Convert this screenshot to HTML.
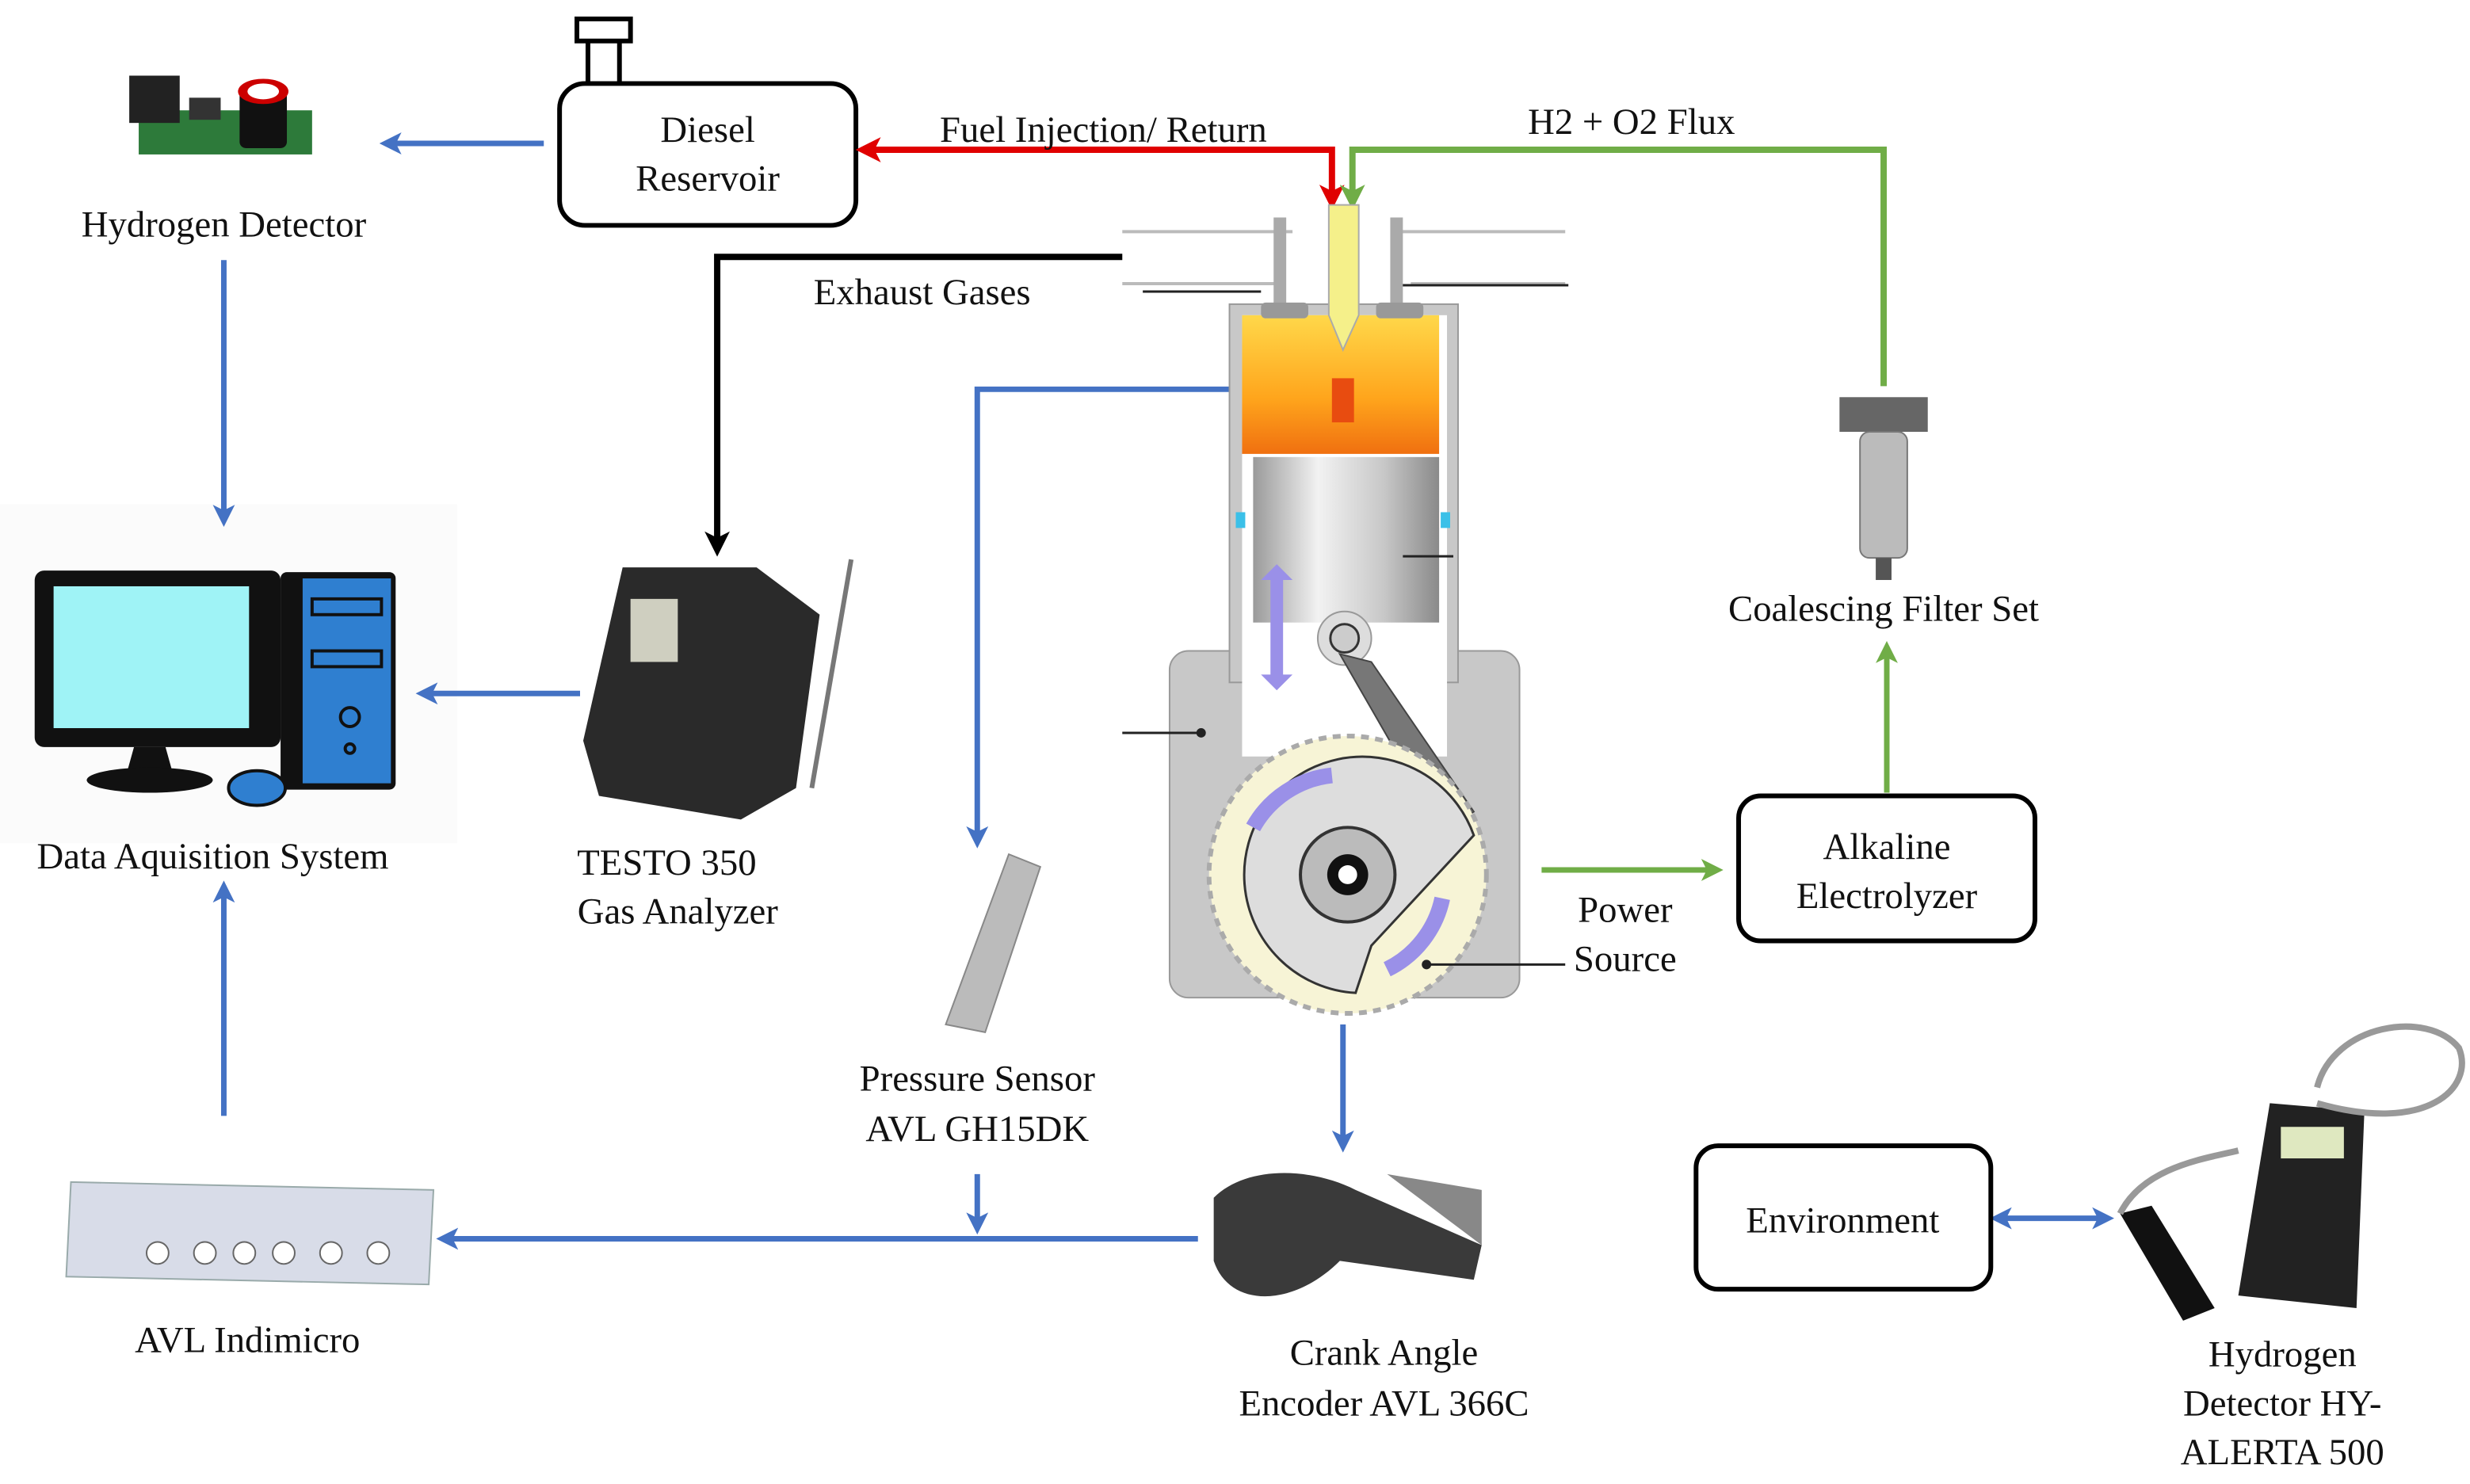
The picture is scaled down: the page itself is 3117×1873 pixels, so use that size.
<!DOCTYPE html>
<html><head><meta charset="utf-8"><style>
html,body{margin:0;padding:0;background:#fff;}
svg{display:block;}
svg text{font-family:'Liberation Serif','DejaVu Serif',serif !important;font-size:23.5px;fill:#111;text-anchor:middle;}
</style></head><body>
<svg width="3117" height="1873" viewBox="0 0 1567 941.6" preserveAspectRatio="none" xmlns="http://www.w3.org/2000/svg" font-family="Liberation Serif, serif">
<defs>
<marker id="ab" markerWidth="4" markerHeight="4" refX="2.2" refY="2" orient="auto" markerUnits="strokeWidth"><path d="M0,0 L4,2 L0,4 L1,2 z" fill="#4472c4"/></marker>
<marker id="abs" markerWidth="4" markerHeight="4" refX="1.8" refY="2" orient="auto-start-reverse" markerUnits="strokeWidth"><path d="M0,0 L4,2 L0,4 L1,2 z" fill="#4472c4"/></marker>
<marker id="ar" markerWidth="4" markerHeight="4" refX="2.2" refY="2" orient="auto-start-reverse" markerUnits="strokeWidth"><path d="M0,0 L4,2 L0,4 L1,2 z" fill="#e00000"/></marker>
<marker id="ag" markerWidth="4" markerHeight="4" refX="2.2" refY="2" orient="auto" markerUnits="strokeWidth"><path d="M0,0 L4,2 L0,4 L1,2 z" fill="#70ad47"/></marker>
<marker id="ak" markerWidth="4" markerHeight="4" refX="2.2" refY="2" orient="auto" markerUnits="strokeWidth"><path d="M0,0 L4,2 L0,4 L1,2 z" fill="#000"/></marker>
<linearGradient id="fire" x1="0" y1="0" x2="0" y2="1"><stop offset="0" stop-color="#ffd84a"/><stop offset="0.6" stop-color="#ffa51c"/><stop offset="1" stop-color="#f07010"/></linearGradient>
<linearGradient id="pist" x1="0" y1="0" x2="1" y2="0"><stop offset="0" stop-color="#9a9a9a"/><stop offset="0.35" stop-color="#f2f2f2"/><stop offset="0.7" stop-color="#c8c8c8"/><stop offset="1" stop-color="#8a8a8a"/></linearGradient>
</defs>
<rect x="0" y="320" width="290" height="215" fill="#fbfbfb"/>

<!-- Diesel reservoir -->
<rect x="366" y="12" width="34" height="14" fill="#fff" stroke="#000" stroke-width="3"/>
<line x1="373" y1="26" x2="373" y2="53" stroke="#000" stroke-width="3"/>
<line x1="393" y1="26" x2="393" y2="53" stroke="#000" stroke-width="3"/>
<rect x="355" y="53" width="188" height="90" rx="16" fill="#fff" stroke="#000" stroke-width="3"/>
<text x="449" y="90">Diesel</text>
<text x="449" y="121">Reservoir</text>

<!-- hydrogen detector board -->
<rect x="88" y="70" width="110" height="28" fill="#2d7a3a"/>
<rect x="82" y="48" width="32" height="30" fill="#222"/>
<rect x="152" y="54" width="30" height="40" rx="4" fill="#111"/>
<ellipse cx="167" cy="58" rx="16" ry="8" fill="#c00"/><ellipse cx="167" cy="58" rx="10" ry="5" fill="#fff"/>
<rect x="120" y="62" width="20" height="14" fill="#333"/>
<text x="142" y="150">Hydrogen Detector</text>
<line x1="345" y1="91" x2="247" y2="91" stroke="#4472c4" stroke-width="3.5" marker-end="url(#ab)"/>

<!-- red fuel -->
<polyline points="845,126 845,95 550,95" fill="none" stroke="#e00000" stroke-width="4" marker-start="url(#ar)" marker-end="url(#ar)"/>
<text x="700" y="90">Fuel Injection/ Return</text>
<!-- green flux -->
<polyline points="1195,245 1195,95 858,95 858,126" fill="none" stroke="#70ad47" stroke-width="4" marker-end="url(#ag)"/>
<text x="1035" y="85">H2 + O2 Flux</text>
<!-- exhaust -->
<polyline points="712,163 455,163 455,346" fill="none" stroke="#000" stroke-width="4" marker-end="url(#ak)"/>
<text x="585" y="193">Exhaust Gases</text>

<!-- blue lines -->
<line x1="142" y1="165" x2="142" y2="328" stroke="#4472c4" stroke-width="3.5" marker-end="url(#ab)"/>
<line x1="368" y1="440" x2="270" y2="440" stroke="#4472c4" stroke-width="3.5" marker-end="url(#ab)"/>
<polyline points="780,247 620,247 620,532" fill="none" stroke="#4472c4" stroke-width="3.5" marker-end="url(#ab)"/>
<line x1="620" y1="745" x2="620" y2="777" stroke="#4472c4" stroke-width="3.5" marker-end="url(#ab)"/>
<line x1="760" y1="786" x2="283" y2="786" stroke="#4472c4" stroke-width="3.5" marker-end="url(#ab)"/>
<line x1="142" y1="708" x2="142" y2="565" stroke="#4472c4" stroke-width="3.5" marker-end="url(#ab)"/>
<line x1="852" y1="650" x2="852" y2="725" stroke="#4472c4" stroke-width="3.5" marker-end="url(#ab)"/>
<line x1="1270" y1="773" x2="1335" y2="773" stroke="#4472c4" stroke-width="3.5" marker-start="url(#abs)" marker-end="url(#ab)"/>
<!-- green power -->
<line x1="978" y1="552" x2="1087" y2="552" stroke="#70ad47" stroke-width="3.5" marker-end="url(#ag)"/>
<line x1="1197" y1="503" x2="1197" y2="413" stroke="#70ad47" stroke-width="3.5" marker-end="url(#ag)"/>

<!-- computer -->
<rect x="22" y="362" width="156" height="112" rx="6" fill="#111"/>
<rect x="34" y="372" width="124" height="90" fill="#9ff3f6"/>
<path d="M85,474 L105,474 L110,492 L80,492 z" fill="#111"/>
<ellipse cx="95" cy="495" rx="40" ry="8" fill="#111"/>
<rect x="178" y="363" width="73" height="138" rx="4" fill="#111"/>
<rect x="192" y="367" width="56" height="130" fill="#2f7fd0"/>
<rect x="198" y="380" width="44" height="10" fill="#2f7fd0" stroke="#111" stroke-width="2"/>
<rect x="198" y="413" width="44" height="10" fill="#2f7fd0" stroke="#111" stroke-width="2"/>
<circle cx="222" cy="455" r="6" fill="none" stroke="#111" stroke-width="2"/>
<circle cx="222" cy="475" r="3" fill="none" stroke="#111" stroke-width="2"/>
<ellipse cx="163" cy="500" rx="18" ry="11" fill="#2f7fd0" stroke="#111" stroke-width="2"/>
<text x="135" y="551">Data Aquisition System</text>

<!-- TESTO -->
<path d="M395,360 L480,360 L520,390 L505,500 L470,520 L380,505 L370,470 z" fill="#2a2a2a"/>
<rect x="400" y="380" width="30" height="40" fill="#cfcfc0"/>
<line x1="540" y1="355" x2="515" y2="500" stroke="#777" stroke-width="3"/>
<text x="423" y="555">TESTO 350</text>
<text x="430" y="586">Gas Analyzer</text>

<!-- pressure sensor -->
<path d="M640,542 L660,550 L625,655 L600,650 z" fill="#bbb" stroke="#888"/>
<text x="620" y="692">Pressure Sensor</text>
<text x="620" y="724">AVL GH15DK</text>

<!-- AVL indimicro -->
<path d="M45,750 L275,755 L272,815 L42,810 z" fill="#d8dce8" stroke="#9aa"/>
<g fill="#fff" stroke="#666"><circle cx="100" cy="795" r="7"/><circle cx="130" cy="795" r="7"/><circle cx="155" cy="795" r="7"/><circle cx="180" cy="795" r="7"/><circle cx="210" cy="795" r="7"/><circle cx="240" cy="795" r="7"/></g>
<text x="157" y="858">AVL Indimicro</text>

<!-- crank encoder -->
<path d="M770,760 C790,740 830,740 860,755 L940,790 L935,812 L850,800 C820,830 780,830 770,800 z" fill="#3a3a3a"/>
<path d="M880,745 L940,755 L940,790 z" fill="#888"/>
<text x="878" y="866">Crank Angle</text>
<text x="878" y="898">Encoder AVL 366C</text>

<!-- Engine -->
<path d="M712,147 L820,147 M885,147 L993,147 M712,180 L810,180 M895,180 L993,180" stroke="#bbb" stroke-width="2" fill="none"/>
<line x1="725" y1="185" x2="800" y2="185" stroke="#222" stroke-width="1.5"/>
<line x1="885" y1="181" x2="995" y2="181" stroke="#222" stroke-width="1.5"/>
<rect x="742" y="413" width="222" height="220" rx="12" fill="#c8c8c8" stroke="#999"/>
<rect x="780" y="193" width="145" height="240" fill="#c8c8c8" stroke="#999"/>
<rect x="788" y="200" width="130" height="280" fill="#fff"/>
<rect x="788" y="200" width="125" height="88" fill="url(#fire)"/>
<rect x="795" y="290" width="118" height="105" fill="url(#pist)"/>
<rect x="784" y="325" width="6" height="10" fill="#3bc0e8"/><rect x="914" y="325" width="6" height="10" fill="#3bc0e8"/>
<rect x="808" y="138" width="8" height="60" fill="#aaa"/><rect x="882" y="138" width="8" height="60" fill="#aaa"/>
<rect x="800" y="192" width="30" height="10" rx="3" fill="#999"/><rect x="873" y="192" width="30" height="10" rx="3" fill="#999"/>
<path d="M843,130 L862,130 L862,200 L852,222 L843,200 z" fill="#f5f08a" stroke="#aaa"/>
<rect x="845" y="240" width="14" height="28" fill="#e84c10"/>
<path d="M800,368 L810,358 L820,368 L814,368 L814,428 L820,428 L810,438 L800,428 L806,428 L806,368z" fill="#9a90e8"/>
<circle cx="853" cy="405" r="17" fill="#ddd" stroke="#999"/><circle cx="853" cy="405" r="9" fill="#ccc" stroke="#333" stroke-width="1.5"/>
<path d="M850,415 L870,420 L935,515 L915,528 z" fill="#777" stroke="#444"/>
<circle cx="855" cy="555" r="88" fill="#f7f4d6" stroke="#aaa" stroke-width="3" stroke-dasharray="5,4"/>
<path d="M860,630 A75,75 0 1 1 935,530 L870,600 z" fill="#ddd" stroke="#333" stroke-width="1.5"/>
<circle cx="855" cy="555" r="30" fill="#bbb" stroke="#333" stroke-width="2"/>
<circle cx="855" cy="555" r="13" fill="#111"/><circle cx="855" cy="555" r="6" fill="#fff"/>
<path d="M795,525 A65,65 0 0 1 845,492" fill="none" stroke="#9a90e8" stroke-width="10"/>
<path d="M915,570 A65,65 0 0 1 880,615" fill="none" stroke="#9a90e8" stroke-width="10"/>
<line x1="712" y1="465" x2="762" y2="465" stroke="#222" stroke-width="1.5"/><circle cx="762" cy="465" r="3" fill="#222"/>
<line x1="905" y1="612" x2="993" y2="612" stroke="#222" stroke-width="1.5"/><circle cx="905" cy="612" r="3" fill="#222"/>
<line x1="890" y1="353" x2="922" y2="353" stroke="#222" stroke-width="1.5"/>
<text x="1031" y="585">Power</text>
<text x="1031" y="616">Source</text>

<!-- Alkaline electrolyzer -->
<rect x="1103" y="505" width="188" height="92" rx="14" fill="#fff" stroke="#000" stroke-width="3"/>
<text x="1197" y="545">Alkaline</text>
<text x="1197" y="576">Electrolyzer</text>

<!-- filter -->
<rect x="1167" y="252" width="56" height="22" fill="#666"/>
<rect x="1180" y="274" width="30" height="80" rx="6" fill="#bbb" stroke="#777"/>
<rect x="1190" y="354" width="10" height="14" fill="#555"/>
<text x="1195" y="394">Coalescing Filter Set</text>

<!-- Environment -->
<rect x="1076" y="727" width="187" height="91" rx="14" fill="#fff" stroke="#000" stroke-width="3"/>
<text x="1169" y="782">Environment</text>

<!-- HY-ALERTA -->
<path d="M1440,700 L1500,705 L1495,830 L1420,822 z" fill="#222"/>
<rect x="1447" y="715" width="40" height="20" fill="#dfe8c0"/>
<path d="M1345,770 L1365,765 L1405,830 L1385,838 z" fill="#111"/>
<path d="M1470,690 C1480,650 1540,640 1560,665 C1570,690 1540,720 1470,700" fill="none" stroke="#999" stroke-width="4"/>
<path d="M1345,770 C1360,740 1400,735 1420,730" fill="none" stroke="#999" stroke-width="4"/>
<text x="1448" y="867">Hydrogen</text>
<text x="1448" y="898">Detector HY-</text>
<text x="1448" y="929">ALERTA 500</text>
</svg>
</body></html>
